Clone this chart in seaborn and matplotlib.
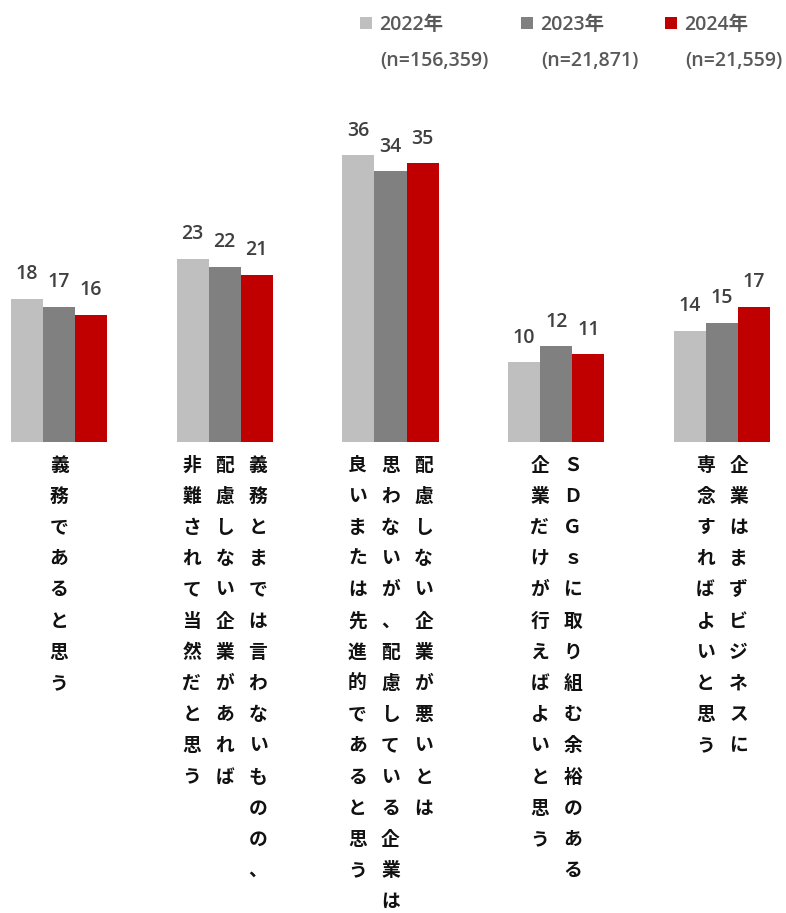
import matplotlib
matplotlib.use("Agg")
import matplotlib.pyplot as plt
import matplotlib.transforms as mtransforms
from matplotlib.patches import Rectangle
import seaborn as sns
import pandas as pd

# ---- data -------------------------------------------------------------
# Each category label is drawn as vertical Japanese text; the columns are
# listed right-to-left, as they are read.
label_columns = [
    ["義務であると思う"],
    ["義務とまでは言わないものの、", "配慮しない企業があれば", "非難されて当然だと思う"],
    ["配慮しない企業が悪いとは", "思わないが、配慮している企業は", "良いまたは先進的であると思う"],
    ["ＳＤＧｓに取り組む余裕のある", "企業だけが行えばよいと思う"],
    ["企業はまずビジネスに", "専念すればよいと思う"],
]
categories = ["".join(cols) for cols in label_columns]

years = ["2022年", "2023年", "2024年"]
sample_sizes = ["(n=156,359)", "(n=21,871)", "(n=21,559)"]
values_2022 = [18, 23, 36, 10, 14]
values_2023 = [17, 22, 34, 12, 15]
values_2024 = [16, 21, 35, 11, 17]
colors = ["#BFBFBF", "#808080", "#C00000"]

df = pd.DataFrame({
    "category": categories * 3,
    "year": [years[0]] * 5 + [years[1]] * 5 + [years[2]] * 5,
    "value": values_2022 + values_2023 + values_2024,
})

# ---- figure -----------------------------------------------------------
sns.set_theme(style="white")
plt.rcParams["font.family"] = ["Open Sans", "Noto Sans CJK JP", "DejaVu Sans"]

W, H, DPI = 786, 913, 100
fig = plt.figure(figsize=(W / DPI, H / DPI), dpi=DPI)

base_px = 442          # baseline, pixels from the top
top_px = 100           # axes top, pixels from the top
px_per_unit = 7.96
ax = fig.add_axes([0, (H - base_px) / H, 1, (base_px - top_px) / H])

sns.barplot(data=df, x="category", y="value", hue="year", hue_order=years,
            order=categories, palette=colors, saturation=1, width=0.58,
            errorbar=None, linewidth=0, legend=False, ax=ax)

group_step = 165.75
first_center = 59
ax.set_xlim(-first_center / group_step, (W - first_center) / group_step)
ax.set_ylim(0, (base_px - top_px) / px_per_unit)
ax.set_xticks([])
ax.set_yticks([])
ax.set_xlabel("")
ax.set_ylabel("")
for s in ax.spines.values():
    s.set_visible(False)
ax.patch.set_alpha(0)

num_font = ["Open Sans", "Noto Sans CJK JP"]

# value labels on top of the bars
for cont in ax.containers:
    ax.bar_label(cont, fmt="%d", padding=10.5, fontsize=14, color="#404040",
                 fontweight="semibold", family=num_font)

# ---- vertical category labels ------------------------------------------
trans = mtransforms.blended_transform_factory(ax.transData, fig.dpi_scale_trans)
col_step = 0.2
row_step = 31.2
first_row_px = 465
for i, cols in enumerate(label_columns):
    n = len(cols)
    for j, col in enumerate(cols):
        x = i + ((n - 1) / 2 - j) * col_step
        for k, ch in enumerate(col):
            y_px = first_row_px + k * row_step
            ax.text(x, (H - y_px) / DPI, ch, transform=trans,
                    ha="center", va="center", fontsize=13.5,
                    fontweight="bold", color="#111111",
                    family=["Noto Sans CJK JP", "DejaVu Sans"])

# ---- legend -----------------------------------------------------------
legend_x = [360, 521, 665]
for x0, name, nn, c in zip(legend_x, years, sample_sizes, colors):
    fig.patches.append(Rectangle((x0 / W, 1 - 29 / H), 12 / W, 12 / H,
                                 transform=fig.transFigure, color=c, lw=0))
    fig.text((x0 + 19) / W, 1 - 30 / H, name, ha="left", va="baseline",
             fontsize=14, fontweight="semibold", color="#595959",
             family=num_font)
    fig.text((x0 + 20) / W, 1 - 66 / H, nn, ha="left", va="baseline",
             fontsize=14, fontweight="semibold", color="#595959",
             family=num_font)

fig.savefig("out.png", dpi=DPI)
